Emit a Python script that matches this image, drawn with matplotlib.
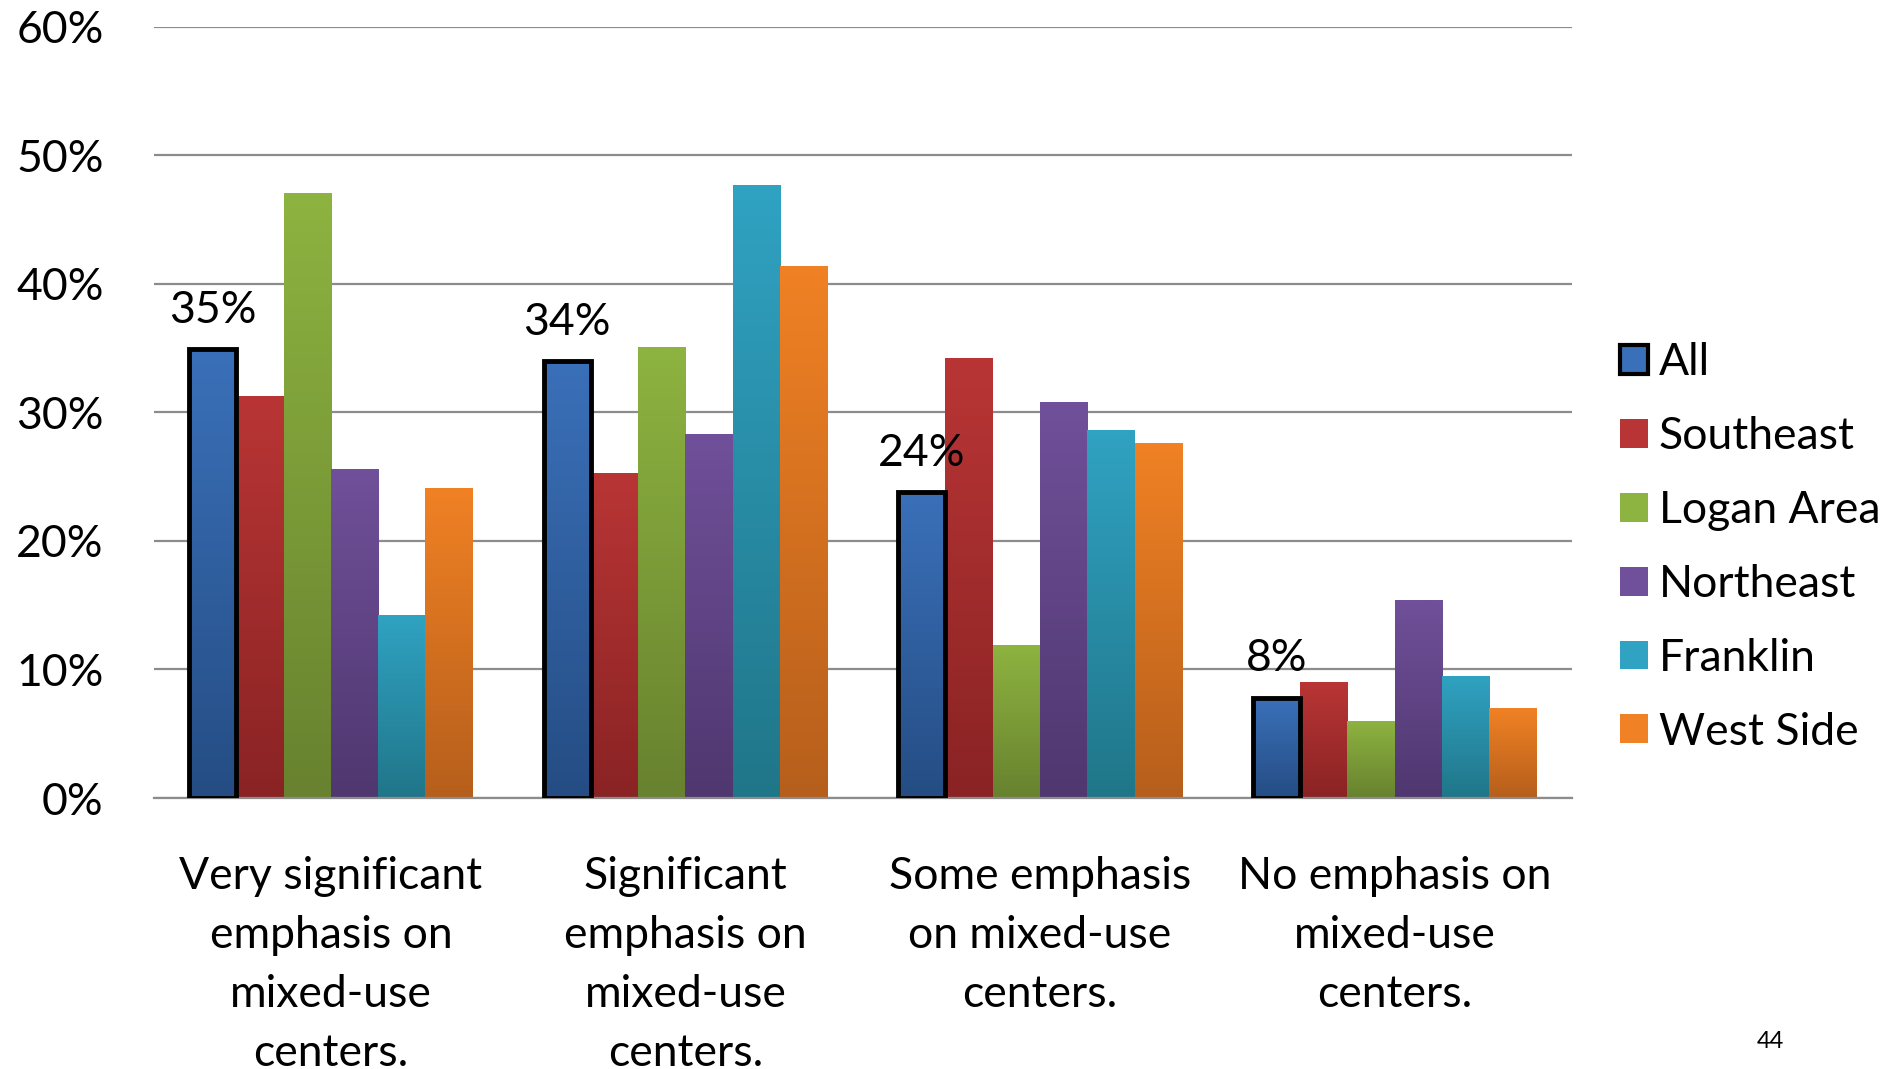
import numpy as np
import matplotlib
matplotlib.use('Agg')
import matplotlib.pyplot as plt
from matplotlib.colors import to_rgb
from matplotlib.patches import Patch

plt.rcParams['font.family'] = ['Lato', 'DejaVu Sans']

categories = ['Very significant\nemphasis on\nmixed-use\ncenters.',
              'Significant\nemphasis on\nmixed-use\ncenters.',
              'Some emphasis\non mixed-use\ncenters.',
              'No emphasis on\nmixed-use\ncenters.']
series = ['All', 'Southeast', 'Logan Area', 'Northeast', 'Franklin', 'West Side']
all_vals = [34.9, 34.0, 23.8, 7.8]
southeast = [31.3, 25.3, 34.2, 9.0]
logan = [47.1, 35.1, 11.9, 6.0]
northeast = [25.6, 28.3, 30.8, 15.4]
franklin = [14.2, 47.7, 28.6, 9.5]
west_side = [24.1, 41.4, 27.6, 7.0]
values = [all_vals, southeast, logan, northeast, franklin, west_side]

# (top colour, bottom colour) for the vertical gradient
colors = [('#3a70b9', '#254d84'),
          ('#b93535', '#8a2324'),
          ('#8db340', '#68822f'),
          ('#70509a', '#4f376f'),
          ('#30a2c2', '#207689'),
          ('#f08124', '#b65f1c')]

fig = plt.figure(figsize=(18.96, 10.69), dpi=100)
ax = fig.add_axes([0.081, 0.2535, 0.748, 0.7215])

x = np.arange(len(categories))
n = len(series)
w = 0.8 / n

for i, (vals, (ctop, cbot)) in enumerate(zip(values, colors)):
    xs = x - 0.4 + w * (i + 0.5)
    bars = ax.bar(xs, vals, width=w, color=cbot, zorder=2, linewidth=0)
    t = np.array(to_rgb(ctop))
    b = np.array(to_rgb(cbot))
    g = np.linspace(0, 1, 64)[:, None]
    img = (b + (t - b) * g)[:, None, :]
    for bar in bars:
        x0 = bar.get_x()
        h = bar.get_height()
        im = ax.imshow(img, extent=[x0, x0 + w, 0, h], aspect='auto',
                       origin='lower', zorder=2.5, interpolation='bilinear')
        im.set_clip_path(bar)
        if i == 0:
            ax.bar(bar.get_x() + w / 2, h, width=w, facecolor='none',
                   edgecolor='black', linewidth=3.5, zorder=3)
            ax.annotate('%d%%' % round(h), (bar.get_x() + w / 2, h),
                        xytext=(0, 19), textcoords='offset points',
                        ha='center', va='baseline', fontsize=32, zorder=4)

ax.set_xlim(-0.5, len(categories) - 0.5)
ax.set_ylim(0, 60)
ax.set_yticks(np.arange(0, 61, 10))
ax.set_yticklabels(['%d%%' % v for v in range(0, 61, 10)], fontsize=32)
ax.set_xticks(x)
ax.set_xticklabels(categories, fontsize=32, linespacing=1.54, va='top')
ax.tick_params(axis='y', length=0, pad=36)
ax.tick_params(axis='x', length=0, pad=42)
ax.grid(axis='y', color='#8c8c8c', linewidth=1.6, zorder=0)
ax.set_axisbelow(True)
for s in ['top', 'right', 'left']:
    ax.spines[s].set_visible(False)
ax.spines['bottom'].set_color('#8c8c8c')
ax.spines['bottom'].set_linewidth(1.6)

handles = []
for i, (ctop, cbot) in enumerate(colors):
    if i == 0:
        handles.append(Patch(facecolor=ctop, edgecolor='black', linewidth=3))
    else:
        handles.append(Patch(facecolor=ctop, edgecolor='none'))
fig.legend(handles, series, loc='upper left', bbox_to_anchor=(0.8545, 0.680),
           frameon=False, fontsize=32, handlelength=0.62, handleheight=0.62,
           handletextpad=0.25, labelspacing=0.74, borderpad=0, borderaxespad=0)

fig.text(0.934, 0.016, '44', fontsize=17, ha='center', va='bottom')

fig.savefig('out.png', dpi=100)
